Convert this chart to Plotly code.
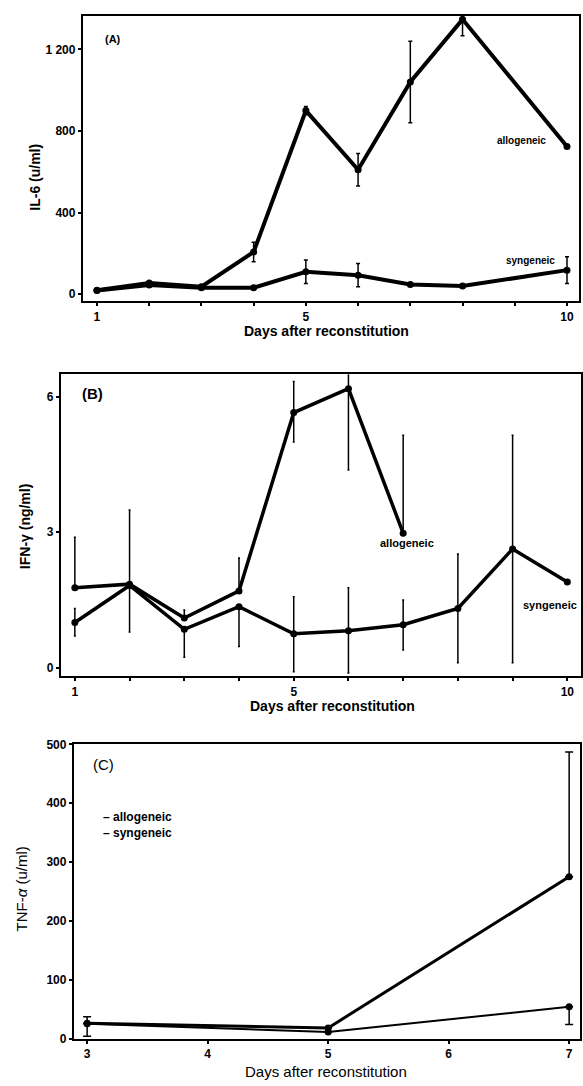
import plotly.graph_objects as go

W, H = 583, 1086

# ---------------- data ----------------
# Panel A: IL-6 (u/ml)
il6_days = [1, 2, 3, 4, 5, 6, 7, 8, 10]
il6_allo = [20, 55, 37, 207, 900, 610, 1040, 1347, 724]
il6_allo_err = [0, 0, 0, 48, 20, 80, 200, 80, 0]
il6_syn = [18, 45, 32, 32, 110, 93, 48, 40, 118]
il6_syn_err = [0, 0, 0, 0, 58, 57, 0, 0, 65]

# Panel B: IFN-gamma (ng/ml)
ifn_allo_days = [1, 2, 3, 4, 5, 6, 7]
ifn_allo = [1.77, 1.85, 1.10, 1.70, 5.65, 6.18, 2.98]
ifn_allo_plus = [1.12, 1.64, 0.18, 0.73, 0.69, 1.80, 2.17]
ifn_allo_minus = [0, 0, 0, 0, 0.65, 1.80, 0]
ifn_syn_days = [1, 2, 3, 4, 5, 6, 7, 8, 9, 10]
ifn_syn = [1.00, 1.82, 0.85, 1.35, 0.75, 0.82, 0.95, 1.31, 2.63, 1.90]
ifn_syn_plus = [0.31, 0, 0, 0, 0.82, 0.95, 0.55, 1.21, 2.52, 0]
ifn_syn_minus = [0.30, 1.03, 0.62, 0.88, 0.84, 0.94, 0.56, 1.20, 2.52, 0]

# Panel C: TNF-alpha (u/ml)
tnf_days = [3, 5, 7]
tnf_allo = [26, 18, 275]
tnf_allo_plus = [11, 0, 212]
tnf_syn = [25, 11, 54]
tnf_syn_minus = [21, 0, 30]

# tick labels
ab_tickvals = [1, 2, 3, 4, 5, 6, 7, 8, 9, 10]
ab_ticktext = ["1", "", "", "", "5", "", "", "", "", "10"]
a_ytickvals = [0, 400, 800, 1200]
a_yticktext = ["0", "400", "800", "1 200"]
b_ytickvals = [0, 3, 6]
c_xtickvals = [3, 4, 5, 6, 7]
c_ytickvals = [0, 100, 200, 300, 400, 500]

FONT = "Liberation Sans, Arial, sans-serif"


def px_x(x):
    return x / W


def px_y(y):
    return 1 - y / H


fig = go.Figure()

# ---- Panel A ----
fig.add_trace(go.Scatter(
    x=il6_days, y=il6_allo, mode="lines+markers", xaxis="x", yaxis="y",
    line=dict(color="black", width=4), marker=dict(color="black", size=7),
    error_y=dict(type="data", array=il6_allo_err, color="black", thickness=1.5, width=2),
    showlegend=False))
fig.add_trace(go.Scatter(
    x=il6_days, y=il6_syn, mode="lines+markers", xaxis="x", yaxis="y",
    line=dict(color="black", width=4), marker=dict(color="black", size=7),
    error_y=dict(type="data", array=il6_syn_err, color="black", thickness=1.5, width=2),
    showlegend=False))

# ---- Panel B ----
fig.add_trace(go.Scatter(
    x=ifn_allo_days, y=ifn_allo, mode="lines+markers", xaxis="x2", yaxis="y2",
    line=dict(color="black", width=3.5), marker=dict(color="black", size=7),
    error_y=dict(type="data", symmetric=False, array=ifn_allo_plus, arrayminus=ifn_allo_minus,
                 color="black", thickness=1.5, width=1),
    showlegend=False))
fig.add_trace(go.Scatter(
    x=ifn_syn_days, y=ifn_syn, mode="lines+markers", xaxis="x2", yaxis="y2",
    line=dict(color="black", width=3.5), marker=dict(color="black", size=7),
    error_y=dict(type="data", symmetric=False, array=ifn_syn_plus, arrayminus=ifn_syn_minus,
                 color="black", thickness=1.5, width=1),
    showlegend=False))

# ---- Panel C ----
fig.add_trace(go.Scatter(
    x=tnf_days, y=tnf_allo, mode="lines+markers", xaxis="x3", yaxis="y3",
    line=dict(color="black", width=3), marker=dict(color="black", size=7),
    error_y=dict(type="data", symmetric=False, array=tnf_allo_plus, arrayminus=[0] * len(tnf_days),
                 color="black", thickness=1.5, width=4),
    showlegend=False))
fig.add_trace(go.Scatter(
    x=tnf_days, y=tnf_syn, mode="lines+markers", xaxis="x3", yaxis="y3",
    line=dict(color="black", width=2), marker=dict(color="black", size=7),
    error_y=dict(type="data", symmetric=False, array=[0] * len(tnf_days), arrayminus=tnf_syn_minus,
                 color="black", thickness=1.5, width=4),
    showlegend=False))

axis_common = dict(showline=True, linecolor="black", linewidth=2, mirror=True,
                   ticks="outside", ticklen=3, tickwidth=1.5, tickcolor="black",
                   showgrid=False, zeroline=False,
                   tickfont=dict(family=FONT, size=12, color="black", weight="bold"))

fig.update_layout(
    width=W, height=H,
    margin=dict(l=0, r=0, t=0, b=0),
    plot_bgcolor="white", paper_bgcolor="white",
    font=dict(family=FONT, color="black"),
    xaxis=dict(domain=[px_x(83), px_x(580)], range=[0.73, 10.23], anchor="y",
               tickvals=ab_tickvals, ticktext=ab_ticktext, **axis_common),
    yaxis=dict(domain=[px_y(298), px_y(9)], range=[-34, 1364], anchor="x",
               tickvals=a_ytickvals, ticktext=a_yticktext, **axis_common),
    xaxis2=dict(domain=[px_x(61), px_x(582)], range=[0.745, 10.25], anchor="y2",
                tickvals=ab_tickvals, ticktext=ab_ticktext, **axis_common),
    yaxis2=dict(domain=[px_y(678), px_y(372)], range=[-0.19, 6.5], anchor="x2",
                tickvals=b_ytickvals, **axis_common),
    xaxis3=dict(domain=[px_x(74), px_x(581)], range=[2.89, 7.09], anchor="y3",
                tickvals=c_xtickvals, **axis_common),
    yaxis3=dict(domain=[px_y(1045), px_y(747)], range=[0, 500], anchor="x3",
                tickvals=c_ytickvals, **axis_common),
)

bold = dict(family=FONT, color="black", weight="bold")
ann = []


def paper_text(text, x, y, size, weight_bold=True, angle=0, xanchor="center"):
    f = dict(size=size, **bold) if weight_bold else dict(size=size, family=FONT, color="black")
    ann.append(dict(text=text, x=px_x(x), y=px_y(y), xref="paper", yref="paper",
                    xanchor=xanchor, yanchor="middle", showarrow=False, textangle=angle, font=f))


# axis titles
paper_text("Days after reconstitution", 327, 328, 14)
paper_text("Days after reconstitution", 333, 708, 14)
paper_text("Days after reconstitution", 327, 1078, 15, weight_bold=False)
paper_text("IL-6 (u/ml)", 35, 172, 14, angle=-90)
paper_text("IFN-γ (ng/ml)", 25, 526, 14, angle=-90)
paper_text("TNF-<i>α</i> (u/ml)", 22, 893, 15, weight_bold=False, angle=-90)
# panel letters
paper_text("(A)", 113, 32, 11)
paper_text("(B)", 93, 392, 15)
paper_text("(C)", 104, 767, 15, weight_bold=False)
# legend in panel C
paper_text("<b>–</b> allogeneic", 101, 821, 12, xanchor="left")
paper_text("– syngeneic", 101, 837, 12, xanchor="left")

# series labels
for text, x, y, xr, yr, size in [
        ("allogeneic", 9.12, 755, "x", "y", 10),
        ("syngeneic", 9.31, 163, "x", "y", 10),
        ("allogeneic", 7.07, 2.76, "x2", "y2", 11),
        ("syngeneic", 9.69, 1.39, "x2", "y2", 11)]:
    ann.append(dict(text=text, x=x, y=y, xref=xr, yref=yr, xanchor="center", yanchor="middle",
                    showarrow=False, font=dict(size=size, **bold)))

fig.update_layout(annotations=ann)

fig.write_html("out.html", config={"displayModeBar": False},
               post_script="document.body.style.margin='0';document.body.style.overflow='hidden';")
